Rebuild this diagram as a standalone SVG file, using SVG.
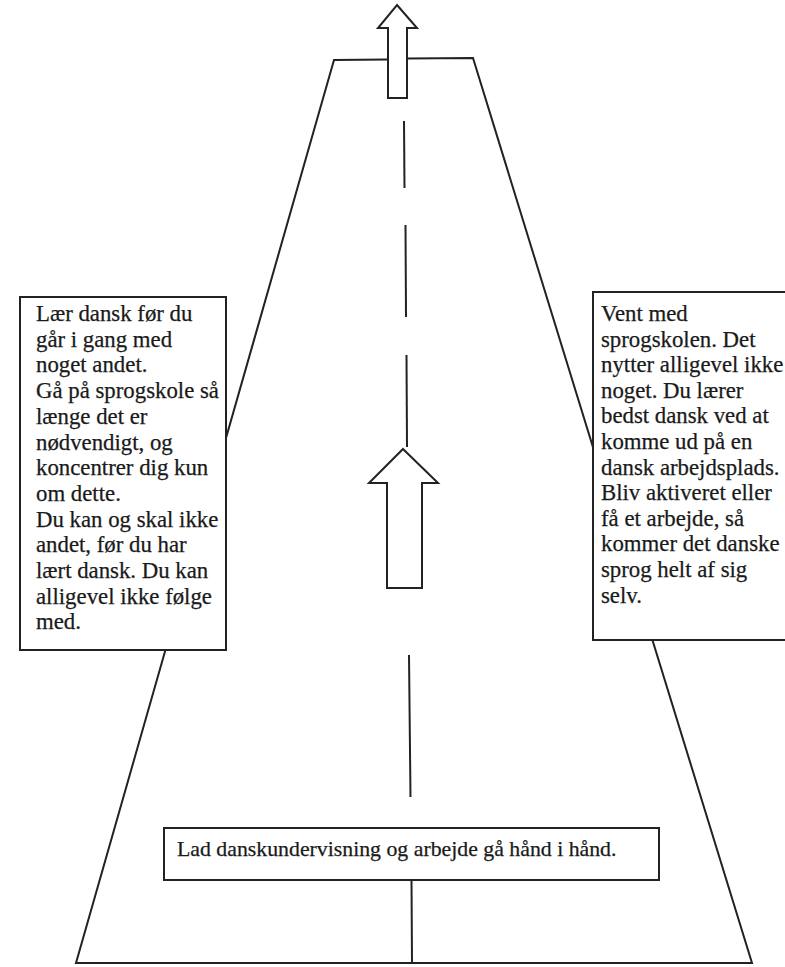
<svg xmlns="http://www.w3.org/2000/svg" width="785" height="967" viewBox="0 0 785 967">
<style>
.ln{stroke:#222;stroke-width:2;fill:none;stroke-linecap:butt;stroke-linejoin:miter}
.box{fill:#fff;stroke:#222;stroke-width:2}
.arrow{fill:#fff;stroke:#222;stroke-width:2;stroke-linejoin:miter}
.t{font-family:"Liberation Serif","Times New Roman",serif;font-size:22.8px;fill:#1a1a1a;stroke:#1a1a1a;stroke-width:0.25}
</style>
<rect width="785" height="967" fill="#fff"/>
<g id="connectors">
<path class="ln" d="M388,59.5 L334,60 L76,963 L752,963 L473,58 L407,58.5"/>
<line class="ln" x1="404" y1="121" x2="404.5" y2="188"/>
<line class="ln" x1="405.5" y1="225" x2="406" y2="317"/>
<line class="ln" x1="406.5" y1="355" x2="407" y2="447"/>
<line class="ln" x1="409" y1="655" x2="410.5" y2="797"/>
<line class="ln" x1="411.5" y1="880" x2="412" y2="963"/>
</g>
<g id="arrow-top">
<polygon class="arrow" points="397,5 417,28 407,28 407,98 388,98 388,28 378,28"/>
</g>
<g id="arrow-middle">
<polygon class="arrow" points="403,449 438,483 422,483 422,588 387,588 387,483 369,483"/>
</g>
<g id="box-left">
<rect class="box" x="20" y="297" width="206" height="353"/>
<text class="t" x="36" y="321">
<tspan x="36" y="321">Lær dansk før du</tspan>
<tspan x="36" y="346.7">går i gang med</tspan>
<tspan x="36" y="372.4">noget andet.</tspan>
<tspan x="36" y="398.1">Gå på sprogskole så</tspan>
<tspan x="36" y="423.8">længe det er</tspan>
<tspan x="36" y="449.5">nødvendigt, og</tspan>
<tspan x="36" y="475.2">koncentrer dig kun</tspan>
<tspan x="36" y="500.9">om dette.</tspan>
<tspan x="36" y="526.6">Du kan og skal ikke</tspan>
<tspan x="36" y="552.3">andet, før du har</tspan>
<tspan x="36" y="578">lært dansk. Du kan</tspan>
<tspan x="36" y="603.7">alligevel ikke følge</tspan>
<tspan x="36" y="629.4">med.</tspan>
</text>
</g>
<g id="box-right">
<rect class="box" x="593" y="292" width="200" height="348"/>
<text class="t" x="601" y="321">
<tspan x="601" y="321">Vent med</tspan>
<tspan x="601" y="346.6">sprogskolen. Det</tspan>
<tspan x="601" y="372.2">nytter alligevel ikke</tspan>
<tspan x="601" y="397.8">noget. Du lærer</tspan>
<tspan x="601" y="423.4">bedst dansk ved at</tspan>
<tspan x="601" y="449">komme ud på en</tspan>
<tspan x="601" y="474.6">dansk arbejdsplads.</tspan>
<tspan x="601" y="500.2">Bliv aktiveret eller</tspan>
<tspan x="601" y="525.8">få et arbejde, så</tspan>
<tspan x="601" y="551.4">kommer det danske</tspan>
<tspan x="601" y="577">sprog helt af sig</tspan>
<tspan x="601" y="602.6">selv.</tspan>
</text>
</g>
<g id="box-bottom">
<rect class="box" x="164" y="828" width="495" height="52"/>
<text class="t" x="177" y="856" style="font-size:21.8px">Lad danskundervisning og arbejde gå hånd i hånd.</text>
</g>
</svg>
